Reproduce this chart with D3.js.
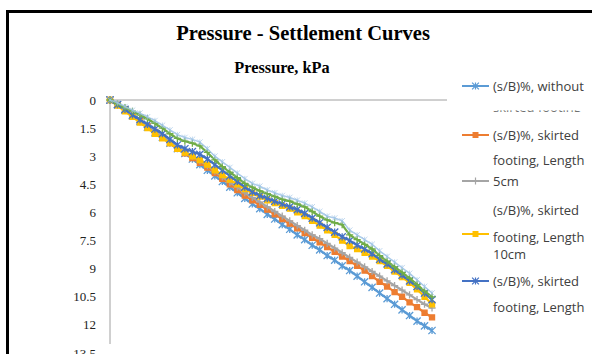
<!DOCTYPE html>
<html>
<head>
<meta charset="utf-8">
<script src="https://cdn.jsdelivr.net/npm/d3@7"></script>
<style>
  body { margin: 0; background: #fff; }
  svg { display: block; }
</style>
</head>
<body>
<div id="chart"></div>
<script>
var width = 592, height = 354;

// pressure steps, kPa
var pressure = [0, 10, 20, 30, 40, 50, 60, 70, 80, 90, 100, 110, 120, 130, 140, 150, 160, 170, 180, 190, 200,
  210, 220, 230, 240, 250, 260, 270, 280, 290, 300, 310, 320, 330, 340, 350, 360, 370, 380, 390, 400, 410, 420, 430];

// settlement (s/B)% per series
var noSkirt = [0, 0.25, 0.55, 0.85, 1.15, 1.45, 1.75, 2.0, 2.3, 2.6, 2.85, 3.15, 3.45, 3.75, 4.05, 4.35, 4.65, 4.95, 5.25, 5.55, 5.8,
  6.1, 6.35, 6.65, 6.9, 7.2, 7.45, 7.75, 8.0, 8.3, 8.55, 8.85, 9.1, 9.4, 9.7, 10.0, 10.3, 10.6, 10.9, 11.2, 11.5, 11.8, 12.05, 12.3];
var skirt5 = [0, 0.25, 0.5, 0.8, 1.1, 1.4, 1.7, 2.0, 2.3, 2.6, 2.85, 3.1, 3.35, 3.6, 3.9, 4.2, 4.5, 4.8, 5.1, 5.35, 5.6,
  5.85, 6.1, 6.35, 6.6, 6.85, 7.1, 7.35, 7.6, 7.85, 8.1, 8.35, 8.6, 8.85, 9.1, 9.4, 9.7, 9.95, 10.25, 10.5, 10.8, 11.05, 11.35, 11.6];
var skirt10 = [0, 0.2, 0.5, 0.8, 1.05, 1.35, 1.65, 1.95, 2.2, 2.5, 2.75, 3.0, 3.25, 3.5, 3.8, 4.1, 4.4, 4.65, 4.95, 5.2, 5.45,
  5.7, 5.95, 6.2, 6.45, 6.7, 6.95, 7.2, 7.4, 7.65, 7.9, 8.15, 8.4, 8.65, 8.9, 9.15, 9.4, 9.65, 9.9, 10.15, 10.4, 10.65, 10.9, 11.1];
var skirt15 = [0, 0.3, 0.6, 0.9, 1.2, 1.5, 1.8, 2.05, 2.3, 2.6, 2.8, 3.0, 3.2, 3.45, 3.75, 4.0, 4.25, 4.5, 4.75, 4.95, 5.15,
  5.35, 5.5, 5.65, 5.8, 6.0, 6.2, 6.45, 6.7, 6.95, 7.2, 7.5, 7.8, 7.95, 8.15, 8.35, 8.6, 8.85, 9.15, 9.45, 9.75, 10.1, 10.5, 10.9];
var skirt20 = [0, 0.25, 0.5, 0.8, 1.05, 1.3, 1.55, 1.8, 2.1, 2.4, 2.6, 2.75, 2.9, 3.15, 3.45, 3.75, 4.05, 4.35, 4.65, 4.9, 5.1,
  5.25, 5.4, 5.55, 5.7, 5.85, 6.05, 6.3, 6.55, 6.8, 7.05, 7.3, 7.5, 7.75, 7.95, 8.2, 8.5, 8.75, 9.05, 9.35, 9.65, 9.95, 10.3, 10.65];
var skirt25 = [0, 0.2, 0.4, 0.6, 0.8, 1.0, 1.25, 1.5, 1.8, 2.05, 2.2, 2.3, 2.45, 2.8, 3.2, 3.55, 3.85, 4.15, 4.45, 4.65, 4.85,
  5.0, 5.15, 5.3, 5.4, 5.55, 5.7, 5.95, 6.2, 6.4, 6.55, 6.65, 7.2, 7.45, 7.7, 7.95, 8.3, 8.6, 8.9, 9.2, 9.5, 9.85, 10.2, 10.5];
var skirt30 = [0, 0.15, 0.35, 0.55, 0.7, 0.9, 1.1, 1.35, 1.6, 1.85, 2.0, 2.1, 2.25, 2.6, 3.0, 3.3, 3.6, 3.9, 4.2, 4.45, 4.6,
  4.8, 4.95, 5.1, 5.2, 5.35, 5.5, 5.7, 5.95, 6.2, 6.3, 6.45, 6.95, 7.2, 7.45, 7.7, 8.05, 8.35, 8.65, 8.95, 9.25, 9.6, 9.95, 10.3];

var seriesValues = [noSkirt, skirt5, skirt10, skirt15, skirt20, skirt25, skirt30];
var seriesColors = ["#5b9bd5", "#ed7d31", "#a5a5a5", "#ffc000", "#4472c4", "#70ad47", "#9dc3e6"];
var seriesMarkers = ["star", "box", "plus", "box", "star", "plus", "star"];

var yTicks = [0, 1.5, 3, 4.5, 6, 7.5, 9, 10.5, 12, 13.5];

// legend as Excel rendered it (wrapped rows)
var legendRows = ["(s/B)%, without", "skirted footing", "(s/B)%, skirted", "footing, Length", "5cm",
  "(s/B)%, skirted", "footing, Length", "10cm", "(s/B)%, skirted", "footing, Length"];
var legendRowY = [86, 107, 135, 160, 181, 210, 237, 254, 281, 307];
var legendKeyY = [86, 135, 181, 234, 281];

var svg = d3.select("#chart").append("svg")
  .attr("width", width)
  .attr("height", height);

// chart frame (cropped)
svg.append("rect")
  .attr("x", 7.5).attr("y", 11.5)
  .attr("width", 700).attr("height", 400)
  .attr("fill", "#fff")
  .attr("stroke", "#000")
  .attr("stroke-width", 3);

svg.append("text")
  .attr("x", 303).attr("y", 40)
  .attr("text-anchor", "middle")
  .style("font", "bold 20.5px 'Liberation Serif', serif")
  .text("Pressure - Settlement Curves");

svg.append("text")
  .attr("x", 282).attr("y", 73)
  .attr("text-anchor", "middle")
  .style("font", "bold 16.3px 'Liberation Serif', serif")
  .text("Pressure, kPa");

var xScale = d3.scaleLinear().domain([0, 450]).range([110, 447]);
var yScale = d3.scaleLinear().domain([0, 13.5]).range([100, 353]);

// top x axis (no labels)
svg.append("line")
  .attr("x1", xScale(0)).attr("x2", xScale(450))
  .attr("y1", yScale(0)).attr("y2", yScale(0))
  .attr("stroke", "#a0a0a0").attr("stroke-width", 1);

svg.append("line")
  .attr("x1", xScale(0)).attr("x2", xScale(0))
  .attr("y1", yScale(0)).attr("y2", 344)
  .attr("stroke", "#a0a0a0").attr("stroke-width", 1);

svg.selectAll(".ytick")
  .data(yTicks)
  .enter().append("text")
    .attr("class", "ytick")
    .attr("x", 96)
    .attr("y", function(d) { return yScale(d); })
    .attr("dy", "0.35em")
    .attr("text-anchor", "end")
    .style("font", "13px 'Liberation Serif', serif")
    .attr("fill", "#222")
    .text(function(d) { return d; });

function markerPath(type, r) {
  if (type === "star") {
    return "M" + -r + "," + -r + "L" + r + "," + r + "M" + -r + "," + r + "L" + r + "," + -r +
      "M0," + -r + "L0," + r;
  }
  if (type === "plus") {
    return "M" + -r + ",0L" + r + ",0M0," + -r + "L0," + r;
  }
  return "M" + -r * 0.7 + "," + -r * 0.7 + "h" + r * 1.4 + "v" + r * 1.4 + "h" + -r * 1.4 + "Z";
}

var line = d3.line()
  .x(function(d) { return xScale(d.p); })
  .y(function(d) { return yScale(d.s); });

seriesValues.forEach(function(vals, i) {
  var pts = pressure.map(function(p, j) { return {p: p, s: vals[j]}; });
  var g = svg.append("g").attr("class", "serie");
  var light = i === 6;
  g.append("path")
    .datum(pts)
    .attr("d", line)
    .attr("fill", "none")
    .attr("stroke", seriesColors[i])
    .attr("stroke-width", light ? 1.5 : 2.25)
    .attr("stroke-opacity", light ? 0.85 : 1);
  g.selectAll(".mk")
    .data(pts)
    .enter().append("path")
      .attr("class", "mk")
      .attr("transform", function(d) { return "translate(" + xScale(d.p) + "," + yScale(d.s) + ")"; })
      .attr("d", markerPath(seriesMarkers[i], light ? 2.8 : 3.6))
      .attr("fill", seriesColors[i])
      .attr("stroke", seriesColors[i])
      .attr("stroke-width", light ? 0.9 : 1.3)
      .attr("stroke-opacity", light ? 0.7 : 1);
});

// legend
var legend = svg.append("g").attr("class", "legend");

legend.selectAll(".key")
  .data(legendKeyY)
  .enter().append("g")
    .attr("class", "key")
    .attr("transform", function(d) { return "translate(0," + d + ")"; })
    .each(function(d, i) {
      var k = d3.select(this);
      k.append("line")
        .attr("x1", 462).attr("x2", 489)
        .attr("stroke", seriesColors[i]).attr("stroke-width", 2);
      k.append("path")
        .attr("transform", "translate(475.5,0)")
        .attr("d", markerPath(seriesMarkers[i], 3.4))
        .attr("fill", seriesColors[i])
        .attr("stroke", seriesColors[i])
        .attr("stroke-width", 1.2);
    });

// second row of the first entry is hidden by the next entry, only its foot shows
svg.append("defs").append("clipPath").attr("id", "rowclip")
  .attr("clipPathUnits", "userSpaceOnUse")
  .append("rect").attr("x", 480).attr("y", 110.5).attr("width", 112).attr("height", 1.2);

legend.selectAll(".row")
  .data(legendRows)
  .enter().append("text")
    .attr("class", "row")
    .attr("x", 493)
    .attr("y", function(d, i) { return legendRowY[i]; })
    .attr("dy", "0.35em")
    .attr("clip-path", function(d, i) { return i === 1 ? "url(#rowclip)" : null; })
    .style("font", "13px 'Open Sans', sans-serif")
    .attr("fill", "#404040")
    .text(function(d) { return d; });
</script>
</body>
</html>
